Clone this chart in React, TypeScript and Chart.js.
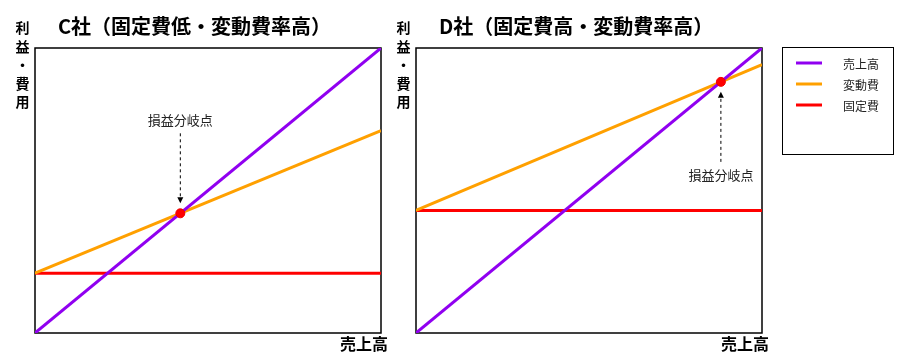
import React, { useEffect, useRef } from "react";
import { Chart, registerables } from "chart.js";
Chart.register(...registerables);

const W = 908;
const H = 359;
const FONT = '"Noto Sans CJK JP", "Noto Sans", sans-serif';

// ---- data ----
const seriesNames = ["売上高", "変動費", "固定費"];
const seriesColors = ["#9000f0", "#ffa000", "#ff0000"];
const salesAxis = [0, 100];
const cSales = [0, 100];
const cVariable = [21, 71];
const cFixed = [21, 21];
const dSales = [0, 100];
const dVariable = [43, 94.2];
const dFixed = [43, 43];
const yLabelChars = ["利", "益", "・", "費", "用"];
const xLabelText = "売上高";
const breakEvenText = "損益分岐点";
const titles = ["C社（固定費低・変動費率高）", "D社（固定費高・変動費率高）"];

function intersect(a: number[], b: number[]) {
  const x0 = salesAxis[0], x1 = salesAxis[1];
  const sa = (a[1] - a[0]) / (x1 - x0);
  const sb = (b[1] - b[0]) / (x1 - x0);
  const x = x0 + (b[0] - a[0]) / (sa - sb);
  return { x, y: a[0] + sa * (x - x0) };
}

function toPts(vals: number[]) {
  return salesAxis.map((x, i) => ({ x, y: vals[i] }));
}

function makePlugin(title: string, textAbove: boolean, showLegend: boolean) {
  return {
    id: "panelDeco",
    beforeDatasetsDraw(chart: any) {
      const { ctx, chartArea: a } = chart;
      ctx.save();
      ctx.strokeStyle = "#000";
      ctx.lineWidth = 1.5;
      ctx.strokeRect(a.left, a.top, a.right - a.left, a.bottom - a.top);
      ctx.restore();
    },
    afterDraw(chart: any) {
      const { ctx, chartArea: a } = chart;
      ctx.save();
      ctx.fillStyle = "#000";
      // title
      ctx.font = `bold 20px ${FONT}`;
      ctx.textAlign = "left";
      ctx.textBaseline = "middle";
      ctx.fillText(title, a.left + 23, 26);
      // y label
      ctx.font = `bold 14px ${FONT}`;
      ctx.textAlign = "center";
      yLabelChars.forEach((c, i) => {
        ctx.fillText(c, a.left - 12.5, 28 + i * 18.5);
      });
      // x label
      ctx.font = `bold 16px ${FONT}`;
      ctx.textAlign = "right";
      ctx.fillText(xLabelText, a.right + 7, 344);
      // break-even annotation
      const meta = chart.getDatasetMeta(3);
      const pt = meta.data[0];
      const px = pt.x, py = pt.y;
      ctx.font = `13px ${FONT}`;
      ctx.textAlign = "center";
      ctx.fillStyle = "#222";
      const dir = textAbove ? -1 : 1;
      ctx.fillText(breakEvenText, px, py + dir * 93);
      const tail = py + dir * 80;
      const tip = py + dir * 10;
      ctx.strokeStyle = "#000";
      ctx.lineWidth = 1;
      ctx.setLineDash([3, 3]);
      ctx.beginPath();
      ctx.moveTo(px, tail);
      ctx.lineTo(px, tip + dir * 5);
      ctx.stroke();
      ctx.setLineDash([]);
      ctx.fillStyle = "#000";
      ctx.beginPath();
      ctx.moveTo(px, tip);
      ctx.lineTo(px - 3, tip + dir * 6);
      ctx.lineTo(px + 3, tip + dir * 6);
      ctx.closePath();
      ctx.fill();
      // legend
      if (showLegend) {
        ctx.strokeStyle = "#000";
        ctx.lineWidth = 1;
        ctx.strokeRect(782.5, 47.5, 111, 107);
        ctx.font = `12px ${FONT}`;
        ctx.textAlign = "left";
        seriesNames.forEach((n, i) => {
          const y = 63 + i * 21;
          ctx.strokeStyle = seriesColors[i];
          ctx.lineWidth = 3;
          ctx.beginPath();
          ctx.moveTo(796, y);
          ctx.lineTo(822, y);
          ctx.stroke();
          ctx.fillStyle = "#222";
          ctx.fillText(n, 843, y + 1);
        });
      }
      ctx.restore();
    },
  };
}

function makeChart(
  canvas: HTMLCanvasElement,
  sales: number[],
  variable: number[],
  fixed: number[],
  title: string,
  padding: any,
  textAbove: boolean,
  showLegend: boolean
) {
  const be = intersect(sales, variable);
  const vals = [sales, variable, fixed];
  const datasets: any[] = vals.map((v, i) => ({
    label: seriesNames[i],
    data: toPts(v),
    showLine: true,
    borderColor: seriesColors[i],
    backgroundColor: seriesColors[i],
    borderWidth: 3,
    pointRadius: 0,
    order: i + 1,
  }));
  datasets.push({
    label: breakEvenText,
    data: [be],
    pointRadius: 4.5,
    pointBackgroundColor: "#ff0000",
    pointBorderColor: "#ee0000",
    pointBorderWidth: 1,
    order: 0,
  });
  return new Chart(canvas, {
    type: "scatter",
    data: { datasets },
    options: {
      responsive: false,
      animation: false,
      devicePixelRatio: 1,
      layout: { padding },
      plugins: { legend: { display: false }, tooltip: { enabled: false }, title: { display: false } },
      scales: {
        x: { type: "linear", min: salesAxis[0], max: salesAxis[1], display: false },
        y: { type: "linear", min: 0, max: 100, display: false },
      },
    },
    plugins: [makePlugin(title, textAbove, showLegend)],
  } as any);
}

export default function App() {
  const c1 = useRef<HTMLCanvasElement>(null);
  const c2 = useRef<HTMLCanvasElement>(null);
  useEffect(() => {
    document.body.style.margin = "0";
    const a = makeChart(c1.current!, cSales, cVariable, cFixed, titles[0],
      { left: 35, top: 48, right: W - 381, bottom: H - 333 }, true, false);
    const b = makeChart(c2.current!, dSales, dVariable, dFixed, titles[1],
      { left: 416, top: 48, right: W - 762, bottom: H - 333 }, false, true);
    return () => {
      a.destroy();
      b.destroy();
    };
  }, []);
  const st: React.CSSProperties = { position: "absolute", left: 0, top: 0, width: W, height: H };
  return (
    <div style={{ position: "fixed", left: 0, top: 0, width: W, height: H, background: "#fff" }}>
      <canvas ref={c1} width={W} height={H} style={st} />
      <canvas ref={c2} width={W} height={H} style={st} />
    </div>
  );
}
